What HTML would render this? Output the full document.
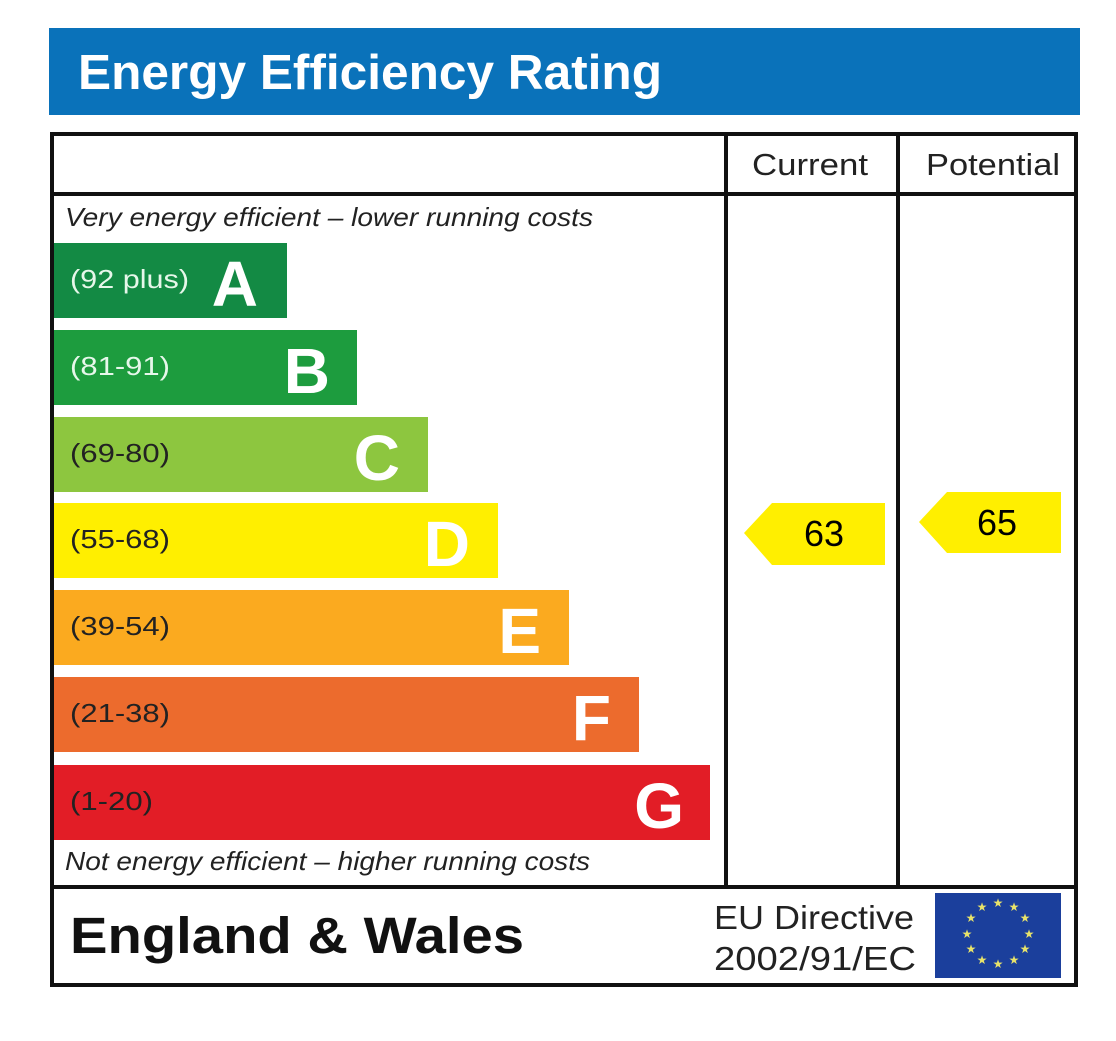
<!DOCTYPE html>
<html><head><meta charset="utf-8"><style>
html,body{margin:0;padding:0;background:#fff;width:1116px;height:1041px;overflow:hidden}
svg{display:block}
text{font-family:"Liberation Sans",Arial,sans-serif}
</style></head><body>
<svg width="1116" height="1041" viewBox="0 0 1116 1041">
<rect x="49" y="28" width="1031" height="87" fill="#0a72ba"/>
<text x="78" y="89" font-size="49" font-weight="bold" fill="#fff" textLength="584" lengthAdjust="spacingAndGlyphs">Energy Efficiency Rating</text>
<g fill="none" stroke="#111" stroke-width="4">
<rect x="52" y="134" width="1024" height="851"/>
<line x1="52" y1="194" x2="1076" y2="194"/>
<line x1="52" y1="887" x2="1076" y2="887"/>
<line x1="726" y1="134" x2="726" y2="887"/>
<line x1="898" y1="134" x2="898" y2="887"/>
</g>
<text x="752" y="175" font-size="31" fill="#222" textLength="116" lengthAdjust="spacingAndGlyphs">Current</text>
<text x="926" y="175" font-size="31" fill="#222" textLength="134" lengthAdjust="spacingAndGlyphs">Potential</text>
<text x="65" y="226" font-size="26" font-style="italic" fill="#222" textLength="528" lengthAdjust="spacingAndGlyphs">Very energy efficient – lower running costs</text>
<text x="65" y="870" font-size="26" font-style="italic" fill="#222" textLength="525" lengthAdjust="spacingAndGlyphs">Not energy efficient – higher running costs</text>
<rect x="54" y="243" width="233" height="75" fill="#138a44"/>
<rect x="54" y="330" width="303" height="75" fill="#1d9c3e"/>
<rect x="54" y="417" width="374" height="75" fill="#8dc63f"/>
<rect x="54" y="503" width="444" height="75" fill="#ffef00"/>
<rect x="54" y="590" width="515" height="75" fill="#fbaa1f"/>
<rect x="54" y="677" width="585" height="75" fill="#ec6b2d"/>
<rect x="54" y="765" width="656" height="75" fill="#e21d26"/>
<g font-size="26">
<text x="70" y="288" fill="#e6f7ea" textLength="119" lengthAdjust="spacingAndGlyphs">(92 plus)</text>
<text x="70" y="375" fill="#e6f7ea" textLength="100" lengthAdjust="spacingAndGlyphs">(81-91)</text>
<text x="70" y="462" fill="#222" textLength="100" lengthAdjust="spacingAndGlyphs">(69-80)</text>
<text x="70" y="548" fill="#222" textLength="100" lengthAdjust="spacingAndGlyphs">(55-68)</text>
<text x="70" y="635" fill="#222" textLength="100" lengthAdjust="spacingAndGlyphs">(39-54)</text>
<text x="70" y="722" fill="#222" textLength="100" lengthAdjust="spacingAndGlyphs">(21-38)</text>
<text x="70" y="810" fill="#222" textLength="83" lengthAdjust="spacingAndGlyphs">(1-20)</text>
</g>
<g font-size="64" font-weight="bold" fill="#fff" text-anchor="end">
<text x="258" y="306">A</text>
<text x="330" y="393">B</text>
<text x="400" y="480">C</text>
<text x="470" y="566">D</text>
<text x="541" y="653">E</text>
<text x="611" y="740">F</text>
<text x="684" y="828">G</text>
</g>
<polygon points="744,533 772,503 885,503 885,565 772,565" fill="#ffef00"/>
<text x="824" y="546" font-size="36" text-anchor="middle" fill="#000">63</text>
<polygon points="919,522 947,492 1061,492 1061,553 947,553" fill="#ffef00"/>
<text x="997" y="535" font-size="36" text-anchor="middle" fill="#000">65</text>
<text x="70" y="953" font-size="51" font-weight="bold" fill="#111" textLength="454" lengthAdjust="spacingAndGlyphs">England &amp; Wales</text>
<text x="714" y="929" font-size="33" fill="#222" textLength="200" lengthAdjust="spacingAndGlyphs">EU Directive</text>
<text x="714" y="970" font-size="33" fill="#222" textLength="202" lengthAdjust="spacingAndGlyphs">2002/91/EC</text>
<rect x="935" y="893" width="126" height="85" fill="#1b3f9c"/>
<g fill="#e8e36a" font-size="12" text-anchor="middle">
<text x="998" y="907">★</text><text x="1014" y="911">★</text><text x="1025" y="922">★</text>
<text x="1029" y="938">★</text><text x="1025" y="953">★</text><text x="1014" y="964">★</text>
<text x="998" y="968">★</text><text x="982" y="964">★</text><text x="971" y="953">★</text>
<text x="967" y="938">★</text><text x="971" y="922">★</text><text x="982" y="911">★</text>
</g>
</svg>
</body></html>
